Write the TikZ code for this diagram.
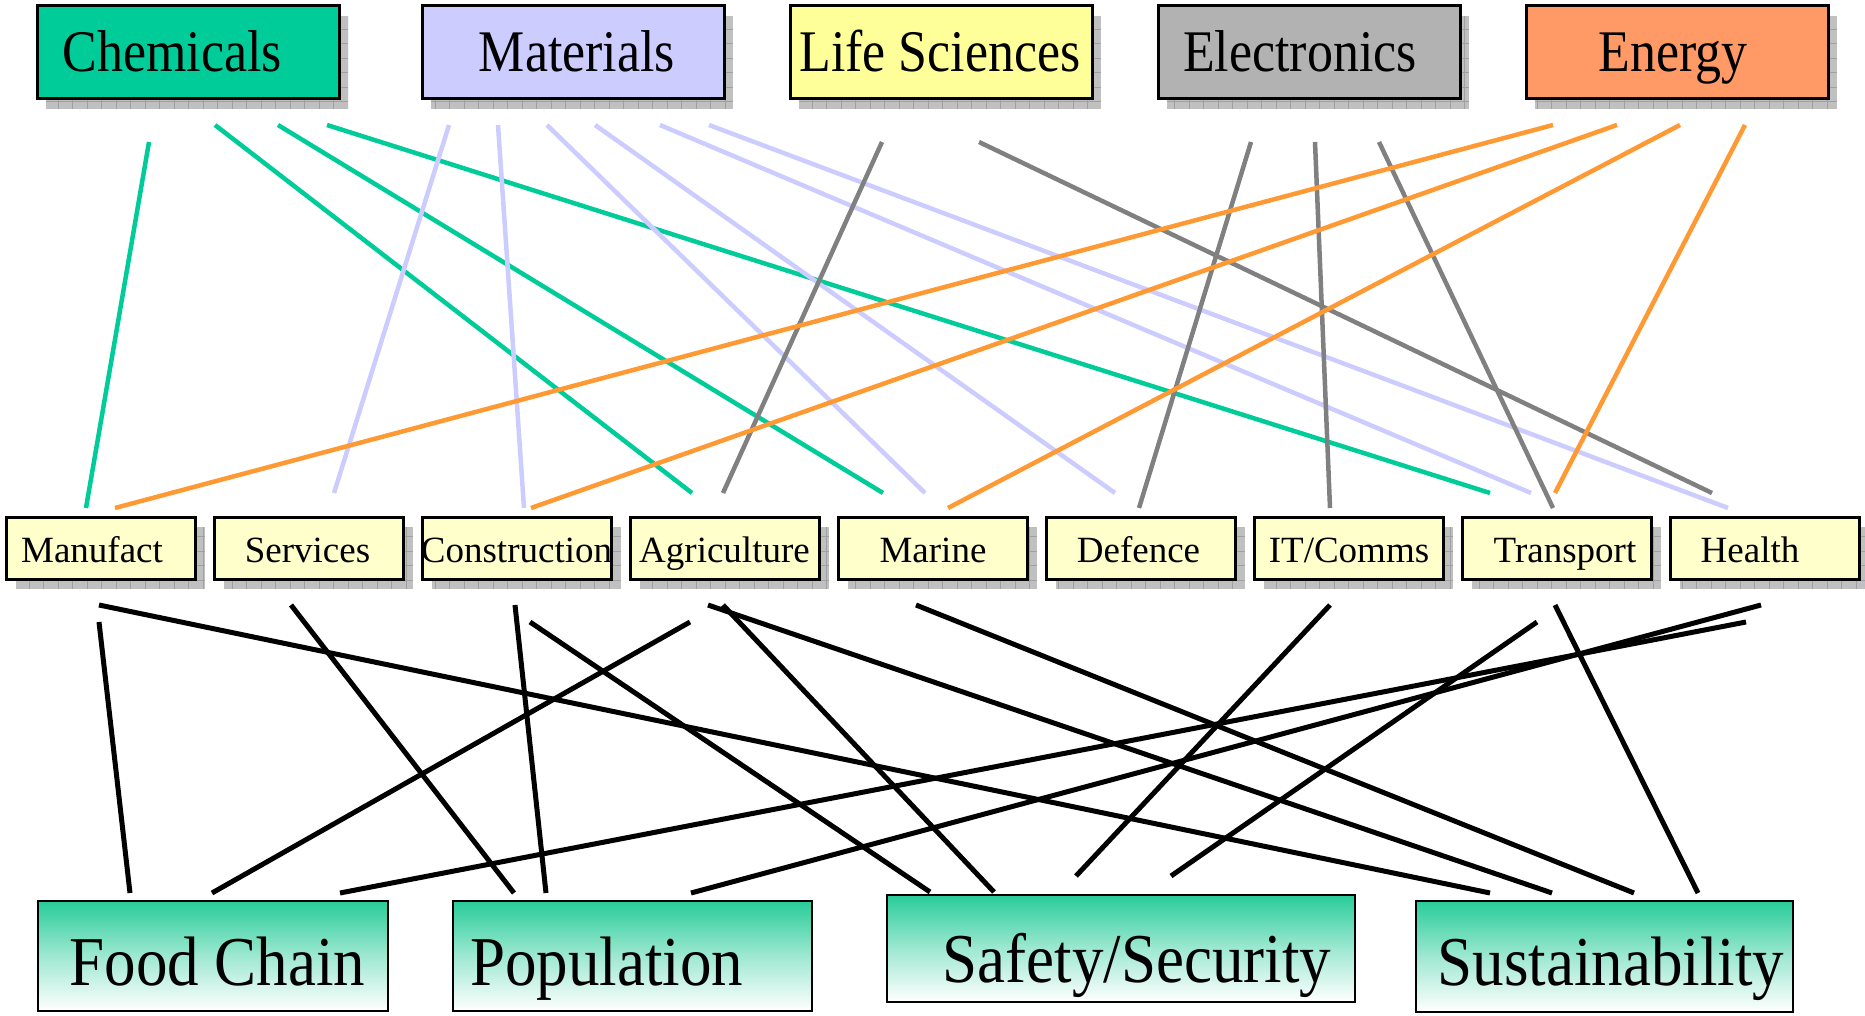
\documentclass[tikz,border=0pt]{standalone}
\usepackage{fontspec}
\setmainfont{Liberation Serif}
\newfontfamily\topfont[FakeStretch=0.88]{Liberation Serif}
\newfontfamily\botfont[FakeStretch=0.90]{Liberation Serif}
\usetikzlibrary{calc,backgrounds}
\definecolor{chemgreen}{RGB}{0,204,153}
\definecolor{matblue}{RGB}{204,204,255}
\definecolor{lifeyellow}{RGB}{255,255,153}
\definecolor{elecgray}{RGB}{178,178,178}
\definecolor{energyorange}{RGB}{255,153,102}
\definecolor{midyellow}{RGB}{255,255,204}
\definecolor{lgreen}{RGB}{0,204,153}
\definecolor{llav}{RGB}{204,204,255}
\definecolor{lgray}{RGB}{128,128,128}
\definecolor{lorange}{RGB}{255,153,51}
\definecolor{botgreen}{RGB}{40,204,153}
\definecolor{shfill}{RGB}{192,192,192}
\definecolor{shline}{RGB}{160,160,160}
\tikzset{
  topbox/.style={draw=black, line width=3pt, inner sep=0pt, outer sep=0pt,
    minimum width=302pt, minimum height=93pt},
  midbox/.style={draw=black, line width=3pt, fill=midyellow, inner sep=0pt, outer sep=0pt,
    minimum width=189pt, minimum height=62pt},
  botbox/.style={draw=black, line width=2pt, inner sep=0pt, outer sep=0pt,
    top color=botgreen, bottom color=white, middle color=botgreen!45!white},
  toplabel/.style={anchor=base, inner sep=0pt, font=\topfont\fontsize{59}{64}\selectfont},
  midlabel/.style={anchor=base, inner sep=0pt, font=\fontsize{37}{40}\selectfont},
  botlabel/.style={anchor=base, inner sep=0pt, font=\botfont\fontsize{70}{75}\selectfont},
  gl/.style={line width=4.5pt, draw=lgreen},
  ll/.style={line width=4.5pt, draw=llav},
  yl/.style={line width=4.5pt, draw=lgray},
  ol/.style={line width=4.5pt, draw=lorange},
  bl/.style={line width=5pt, draw=black},
}
\newcommand\edgeln[5]{\draw[#1] ($(#2.south west)+(#3)$) -- ($(#4.north west)+(#5)$);}
\newcommand\shadowof[3]{%
  \fill[shfill] ($(#1.north west)+(#2,#3)$) rectangle ($(#1.south east)+(#2,#3)$);
  \begin{scope}
    \clip ($(#1.north west)+(#2,#3)$) rectangle ($(#1.south east)+(#2,#3)$);
    \draw[shline, line width=0.8pt, step=14.5pt] ($(#1.north west)+(#2,#3)$) grid ($(#1.south east)+(#2,#3)$);
  \end{scope}}
\begin{document}
\begin{tikzpicture}[x=1pt, y=-1pt]
\useasboundingbox (0,0) rectangle (1865,1016);
% top row
\node[topbox, fill=chemgreen] (chem) at (188,52.5) {};
\node[topbox, fill=matblue] (mat) at (573,52.5) {};
\node[topbox, fill=lifeyellow] (life) at (941,52.5) {};
\node[topbox, fill=elecgray] (elec) at (1309,52.5) {};
\node[topbox, fill=energyorange] (ener) at (1677,52.5) {};
\node[toplabel] at ($(chem.center)+(-15.5,19.5)$) {Chemicals};
\node[toplabel] at ($(mat.center)+(4,19.5)$) {Materials};
\node[toplabel] at ($(life.center)+(-1,19.5)$) {Life Sciences};
\node[toplabel] at ($(elec.center)+(-9,19.5)$) {Electronics};
\node[toplabel] at ($(ener.center)+(-4,19.5)$) {Energy};
% middle row
\node[midbox] (manu) at (100.5,548) {};
\node[midbox] (serv) at (308.5,548) {};
\node[midbox] (cons) at (516.5,548) {};
\node[midbox] (agri) at (724.5,548) {};
\node[midbox] (mari) at (932.5,548) {};
\node[midbox] (defe) at (1140.5,548) {};
\node[midbox] (itco) at (1348.5,548) {};
\node[midbox] (tran) at (1556.5,548) {};
\node[midbox] (heal) at (1764.5,548) {};
\node[midlabel] at ($(manu.center)+(-8.5,14)$) {Manufact};
\node[midlabel] at ($(serv.center)+(-1,14)$) {Services};
\node[midlabel] at ($(cons.center)+(0,14)$) {Construction};
\node[midlabel] at ($(agri.center)+(0,14)$) {Agriculture};
\node[midlabel] at ($(mari.center)+(0.5,14)$) {Marine};
\node[midlabel] at ($(defe.center)+(-2,14)$) {Defence};
\node[midlabel] at ($(itco.center)+(0.5,14)$) {IT/Comms};
\node[midlabel] at ($(tran.center)+(8.5,14)$) {Transport};
\node[midlabel] at ($(heal.center)+(-14.5,14)$) {Health};
% bottom row
\node[botbox, minimum width=350pt, minimum height=110pt] (food) at (213,956) {};
\node[botbox, minimum width=359pt, minimum height=110pt] (popu) at (632.5,956) {};
\node[botbox, minimum width=468pt, minimum height=107pt] (safe) at (1121,948.5) {};
\node[botbox, minimum width=377pt, minimum height=111pt] (sust) at (1604.5,956.5) {};
\node[botlabel] at ($(food.center)+(4.5,29)$) {Food Chain};
\node[botlabel] at ($(popu.center)+(-26,29)$) {Population};
\node[botlabel] at ($(safe.center)+(16,33.5)$) {Safety/Security};
\node[botlabel] at ($(sust.center)+(6.5,28.5)$) {Sustainability};
% shadows
\begin{scope}[on background layer]
\shadowof{chem}{9}{10}
\shadowof{mat}{9}{10}
\shadowof{life}{9}{10}
\shadowof{elec}{9}{10}
\shadowof{ener}{9}{10}
\shadowof{manu}{10}{10}
\shadowof{serv}{10}{10}
\shadowof{cons}{10}{10}
\shadowof{agri}{10}{10}
\shadowof{mari}{10}{10}
\shadowof{defe}{10}{10}
\shadowof{itco}{10}{10}
\shadowof{tran}{10}{10}
\shadowof{heal}{10}{10}
\end{scope}
% top -> middle connectors
\edgeln{gl}{chem}{112,43}{manu}{80,-9}
\edgeln{gl}{chem}{178,26}{agri}{62,-24}
\edgeln{gl}{chem}{241,26}{mari}{45,-24}
\edgeln{gl}{chem}{290,26}{tran}{28,-24}
\edgeln{ll}{mat}{27,26}{serv}{120,-24}
\edgeln{ll}{mat}{76,26}{cons}{102,-9}
\edgeln{ll}{mat}{125,26}{mari}{87,-24}
\edgeln{ll}{mat}{173,26}{defe}{69,-24}
\edgeln{ll}{mat}{238,26}{tran}{69,-24}
\edgeln{ll}{mat}{287,26}{heal}{58,-9}
\edgeln{yl}{life}{92,43}{agri}{93,-24}
\edgeln{yl}{life}{189,43}{heal}{42,-24}
\edgeln{yl}{elec}{93,43}{defe}{93,-9}
\edgeln{yl}{elec}{157,43}{itco}{76,-9}
\edgeln{yl}{elec}{221,43}{tran}{91,-9}
\edgeln{ol}{ener}{27,26}{manu}{109,-9}
\edgeln{ol}{ener}{91,26}{cons}{109,-9}
\edgeln{ol}{ener}{154,26}{mari}{110,-9}
\edgeln{ol}{ener}{219,26}{tran}{93,-24}
% middle -> bottom connectors
\edgeln{bl}{manu}{93,43}{food}{92,-8}
\edgeln{bl}{manu}{93,26}{sust}{74,-8}
\edgeln{bl}{serv}{77,26}{popu}{61,-8}
\edgeln{bl}{cons}{93,26}{popu}{93,-8}
\edgeln{bl}{cons}{108,43}{safe}{43,-3}
\edgeln{bl}{agri}{60,43}{food}{174,-8}
\edgeln{bl}{agri}{78,26}{sust}{136,-8}
\edgeln{bl}{agri}{93,26}{safe}{107,-3}
\edgeln{bl}{mari}{78,26}{sust}{218,-8}
\edgeln{bl}{itco}{76,26}{safe}{189,-19}
\edgeln{bl}{tran}{75,43}{safe}{284,-19}
\edgeln{bl}{tran}{93,26}{sust}{282,-8}
\edgeln{bl}{heal}{91,26}{popu}{238,-8}
\edgeln{bl}{heal}{76,43}{food}{302,-8}
\end{tikzpicture}
\end{document}
